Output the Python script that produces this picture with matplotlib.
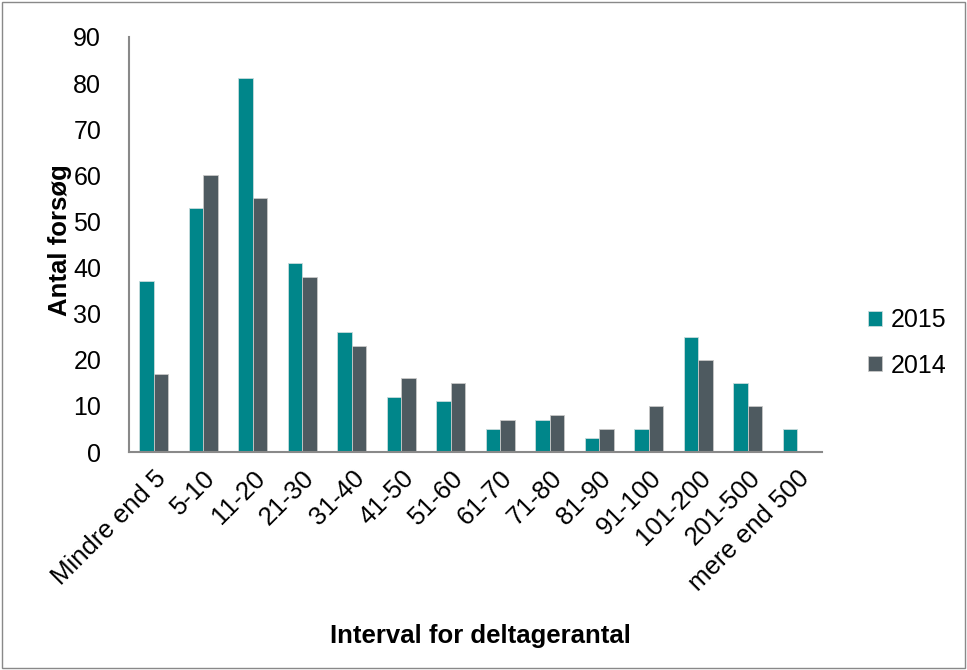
import numpy as np
import matplotlib
matplotlib.use('Agg')
import matplotlib.pyplot as plt
from matplotlib.patches import Rectangle

plt.rcParams['font.family'] = ['Liberation Sans', 'DejaVu Sans']

categories = ['Mindre end 5', '5-10', '11-20', '21-30', '31-40', '41-50', '51-60',
              '61-70', '71-80', '81-90', '91-100', '101-200', '201-500', 'mere end 500']
vals_2015 = [37, 53, 81, 41, 26, 12, 11, 5, 7, 3, 5, 25, 15, 5]
vals_2014 = [17, 60, 55, 38, 23, 16, 15, 7, 8, 5, 10, 20, 10, 0]

TEAL = '#00868A'
GRAY = '#4E5A60'

fig = plt.figure(figsize=(9.67, 6.7), dpi=100)
ax = fig.add_axes([129 / 967, 1 - 452 / 670, (822 - 129) / 967, (452 - 37) / 670])

x = np.arange(len(categories))
w = 0.29
ax.bar(x - w / 2, vals_2015, w, color=TEAL, edgecolor='#c8dcdc', linewidth=0.6, label='2015')
ax.bar(x + w / 2, vals_2014, w, color=GRAY, edgecolor='#c8c8c8', linewidth=0.6, label='2014')

ax.set_xlim(-0.5, len(categories) - 0.5)
ax.set_ylim(0, 90)
ax.set_yticks(range(0, 91, 10))
ax.set_xticks(x)
ax.set_xticklabels(categories, rotation=45, ha='right', rotation_mode='anchor', fontsize=18.5)
ax.tick_params(axis='y', labelsize=18, length=0, pad=20)
ax.tick_params(axis='x', length=0, pad=10)

for s in ['top', 'right']:
    ax.spines[s].set_visible(False)
ax.spines['left'].set_color('#898989')
ax.spines['bottom'].set_color('#898989')
ax.spines['left'].set_linewidth(1.5)
ax.spines['bottom'].set_linewidth(1.5)

ax.set_ylabel('Antal forsøg', fontsize=18.5, fontweight='bold')
ax.yaxis.set_label_coords(-(129 - 72) / (822 - 129), (452 - 240) / (452 - 37))
ax.set_xlabel('Interval for deltagerantal', fontsize=18.5, fontweight='bold')
ax.xaxis.set_label_coords((480 - 129) / (822 - 129), -(624 - 452) / (452 - 37))

ax.legend(loc='center left', bbox_to_anchor=(868 / 967, 1 - 343 / 670), bbox_transform=fig.transFigure,
          frameon=False, fontsize=18, handlelength=0.55, handleheight=0.55, labelspacing=0.85,
          handletextpad=0.35, borderaxespad=0, borderpad=0)

fig.patches.append(Rectangle((0.002, 0.003), 0.996, 0.994, transform=fig.transFigure,
                             fill=False, edgecolor='#898989', linewidth=1))

fig.savefig('out.png', dpi=100)
